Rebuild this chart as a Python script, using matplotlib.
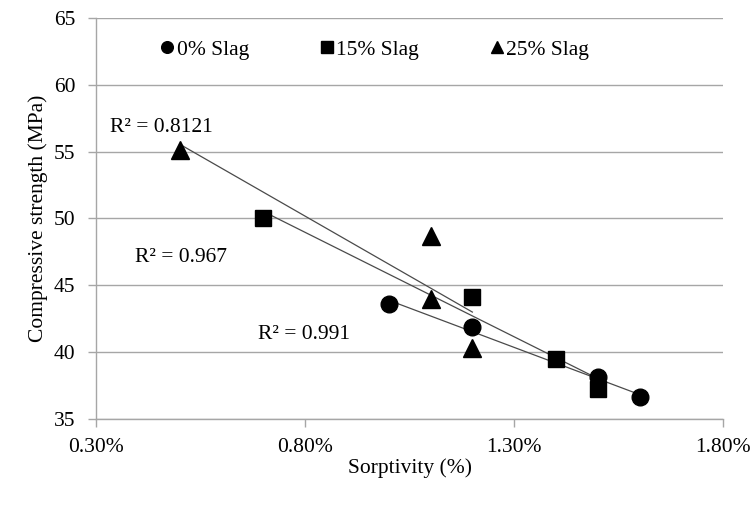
import numpy as np
import matplotlib
matplotlib.use("Agg")
import matplotlib.pyplot as plt
from matplotlib.ticker import FuncFormatter

plt.rcParams['font.family'] = ['Liberation Serif', 'DejaVu Serif']
plt.rcParams['font.size'] = 15.5

# Sorptivity (%) vs compressive strength (MPa) per slag content
slag_0_x = [1.0, 1.2, 1.5, 1.6]
slag_0_y = [43.6, 41.9, 38.1, 36.6]
slag_15_x = [0.7, 1.2, 1.4, 1.5]
slag_15_y = [50.0, 44.1, 39.5, 37.2]
slag_25_x = [0.5, 1.1, 1.1, 1.2]
slag_25_y = [55.1, 48.7, 44.0, 40.3]

labels = ['0% Slag', '15% Slag', '25% Slag']
r2_labels = ['R² = 0.991', 'R² = 0.967', 'R² = 0.8121']

fig = plt.figure(figsize=(7.51, 5.12), dpi=100)
ax = fig.add_axes([0.128, 0.182, 0.835, 0.783])

series = [(slag_0_x, slag_0_y, 'o', 12), (slag_15_x, slag_15_y, 's', 11.5), (slag_25_x, slag_25_y, '^', 13)]
for (x, y, m, ms), lab in zip(series, labels):
    ax.plot(x, y, linestyle='none', marker=m, markersize=ms, color='black', label=lab, zorder=3)
    # linear trendline over the data range
    k, b = np.polyfit(x, y, 1)
    xs = np.array([min(x), max(x)])
    ax.plot(xs, k * xs + b, color='#4a4a4a', linewidth=0.9, zorder=2)

# R² annotations
ax.text(0.688, 41.3, r2_labels[0], ha='left', va='center')
ax.text(0.393, 47.1, r2_labels[1], ha='left', va='center')
ax.text(0.333, 56.8, r2_labels[2], ha='left', va='center')

ax.set_xlim(0.3, 1.8)
ax.set_ylim(35, 65)
ax.set_xticks([0.3, 0.8, 1.3, 1.8])
ax.set_yticks(range(35, 66, 5))
ax.xaxis.set_major_formatter(FuncFormatter(lambda v, p: '%.2f%%' % v))

ax.grid(axis='y', color='#a6a6a6', linewidth=1)
ax.set_axisbelow(True)
for s in ['top', 'right']:
    ax.spines[s].set_visible(False)
for s in ['left', 'bottom']:
    ax.spines[s].set_color('#a6a6a6')
    ax.spines[s].set_linewidth(1)
ax.tick_params(axis='both', colors='#a6a6a6', labelcolor='black', length=6, width=1)
ax.tick_params(axis='x', pad=8)
ax.tick_params(axis='y', pad=9)

ax.set_xlabel('Sorptivity (%)', labelpad=1)
ax.set_ylabel('Compressive strength (MPa)', labelpad=4)

ax.legend(loc='center left', bbox_to_anchor=(0.086, 0.921), ncol=3, frameon=False,
          borderpad=0, handlelength=0.6, handletextpad=0.15, columnspacing=3.3,
          markerscale=0.7)

fig.savefig('out.png', dpi=100)
